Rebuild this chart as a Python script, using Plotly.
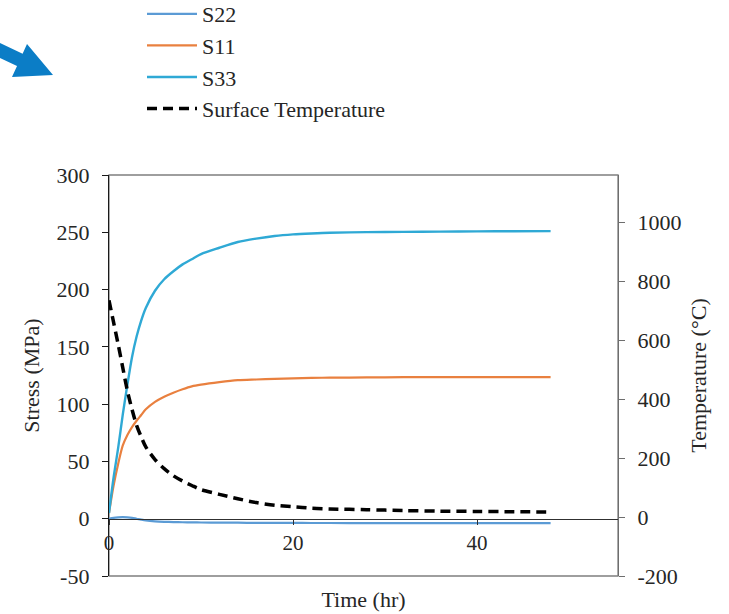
import plotly.graph_objects as go

# ---------------- data ----------------
time_hr = [0, 0.5, 1, 1.5, 2, 2.5, 3, 3.5, 4, 5, 6, 7, 8, 9, 10, 12, 14, 16,
           18, 20, 22, 24, 28, 32, 36, 40, 44, 48]

s22 = [0, 0.8, 1.2, 1.3, 1.2, 0.8, 0.0, -0.8, -1.5, -2.3, -2.7, -2.9, -3.1,
       -3.2, -3.3, -3.4, -3.5, -3.6, -3.65, -3.7, -3.72, -3.75, -3.78, -3.8,
       -3.8, -3.8, -3.8, -3.8]

s11 = [5, 29, 48, 64, 73, 80, 85.5, 90.5, 95.5, 102, 106.5, 110, 113, 115.5,
       117, 119.2, 120.9, 121.5, 122, 122.5, 122.9, 123.1, 123.3, 123.5,
       123.5, 123.5, 123.5, 123.5]

s33 = [5, 36, 62, 91, 117, 141, 159, 173, 184, 199, 209, 216, 222, 226.5,
       231, 236.5, 241.5, 244.5, 246.8, 248.2, 249, 249.6, 250.1, 250.4,
       250.6, 250.8, 250.9, 251]

surface_temp = [735, 660, 585, 506, 428, 365, 311, 272, 238, 195, 164, 140,
                122, 107, 93, 77, 62, 49, 40, 35, 30, 27.5, 25, 22, 20, 19,
                18, 17]

x_ticks = [0, 20, 40]
y_ticks = [-50, 0, 50, 100, 150, 200, 250, 300]
y_ticklabels = ["-50", "0", "50", "100", "150", "200", "250", "300"]
y2_ticks = [-200, 0, 200, 400, 600, 800, 1000]
y2_ticklabels = ["-200", "0", "200", "400", "600", "800", "1000"]

# ---------------- layout geometry ----------------
W, H = 729, 614
L, R, T, B = 109, 111, 175, 38
PW, PH = W - L - R, H - T - B

FONT = "Liberation Serif, Times New Roman, serif"
TXT = "#262626"


def px_to_paper(px, py):
    return (px - L) / PW, (H - B - py) / PH


fig = go.Figure()

fig.add_trace(go.Scatter(x=time_hr, y=s22, name="S22", mode="lines",
                         line=dict(color="#5B9BD5", width=2.2, shape="spline",
                                   smoothing=0.8)))
fig.add_trace(go.Scatter(x=time_hr, y=s11, name="S11", mode="lines",
                         line=dict(color="#E9803F", width=2.2, shape="spline",
                                   smoothing=0.8)))
fig.add_trace(go.Scatter(x=time_hr, y=s33, name="S33", mode="lines",
                         line=dict(color="#2FA9D5", width=2.4, shape="spline",
                                   smoothing=0.8)))
fig.add_trace(go.Scatter(x=time_hr, y=surface_temp, name="Surface Temperature",
                         mode="lines", yaxis="y2",
                         line=dict(color="#000000", width=3.5, dash="10px,6px",
                                   shape="spline", smoothing=0.8)))

# decorative blue arrow (top-left), drawn in pixel positions -> paper coords
arrow_px = [(-4, 41), (22.6, 53.8), (27, 44), (53, 75), (12, 77), (17, 66.1), (-4, 56)]
pts = [px_to_paper(x, y) for x, y in arrow_px]
path = "M " + " L ".join(f"{x:.4f},{y:.4f}" for x, y in pts) + " Z"

fig.update_layout(
    width=W, height=H,
    margin=dict(l=L, r=R, t=T, b=B, pad=0, autoexpand=False),
    paper_bgcolor="white", plot_bgcolor="white",
    font=dict(family=FONT, size=21, color=TXT),
    showlegend=True,
    legend=dict(x=(142 - L) / PW, y=px_to_paper(0, -7)[1], xanchor="left", yanchor="top",
                bgcolor="rgba(0,0,0,0)", borderwidth=0, tracegroupgap=0,
                itemwidth=50,
                font=dict(family=FONT, size=22, color=TXT)),
    xaxis=dict(range=[0, PW / 9.2], tickvals=x_ticks, anchor="free",
               position=50 / 350, showline=True, linecolor="#303030", linewidth=1.3,
               ticks="outside", ticklen=5, tickcolor="#303030", showgrid=False,
               zeroline=False, tickfont=dict(size=21),
               title=dict(text="Time (hr)", standoff=37, font=dict(size=22))),
    yaxis=dict(range=[-50, 300], tickvals=y_ticks, ticktext=y_ticklabels,
               showline=True, linecolor="#1a1a1a",
               linewidth=1.3, ticks="outside", ticklen=6, tickcolor="#1a1a1a",
               ticklabelstandoff=8,
               showgrid=False, zeroline=False, tickfont=dict(size=22),
               title=dict(text="Stress (MPa)", standoff=10, font=dict(size=22))),
    yaxis2=dict(range=[-200, 1160], tickvals=y2_ticks, ticktext=y2_ticklabels,
                overlaying="y", side="right",
                anchor="x", showline=True, linecolor="#6e6e6e", linewidth=1.3,
                ticks="outside", ticklen=6, tickcolor="#6e6e6e", showgrid=False,
                ticklabelstandoff=8,
                zeroline=False, tickfont=dict(size=22),
                title=dict(text="Temperature (°C)", standoff=10, font=dict(size=22))),
    shapes=[
        dict(type="rect", xref="paper", yref="paper", x0=0, x1=1, y0=0, y1=1,
             line=dict(color="#7f7f7f", width=1.3), layer="below"),
        dict(type="path", xref="paper", yref="paper", path=path,
             fillcolor="#0B7DC6", line=dict(width=0), layer="above"),
    ],
)

fig.write_html("out.html", include_plotlyjs=True,
               config={"displayModeBar": False},
               post_script="document.body.style.margin='0';document.body.style.overflow='hidden';")
